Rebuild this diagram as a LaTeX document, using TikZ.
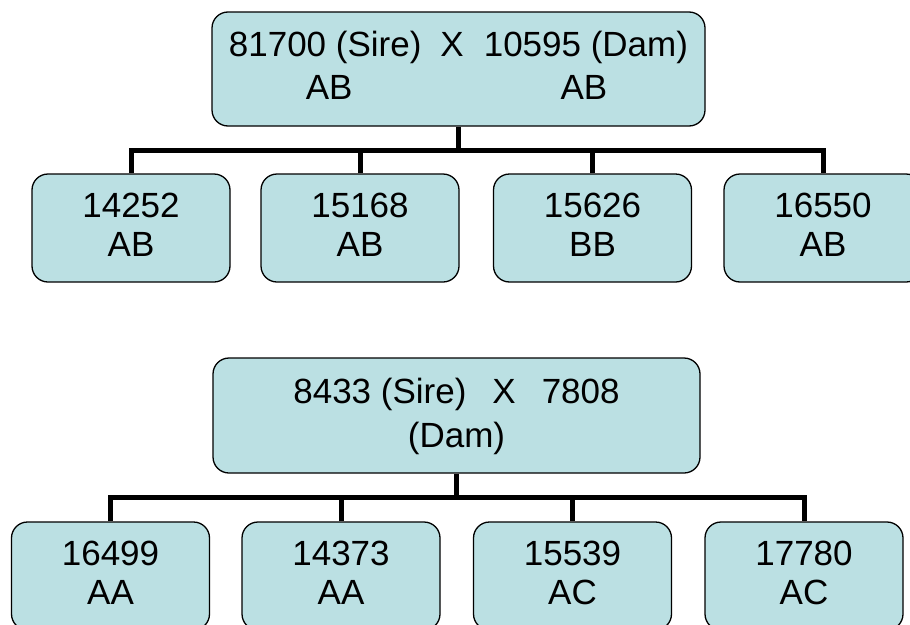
\documentclass[tikz,border=0pt]{standalone}
\usepackage{fontspec}
\setmainfont{Liberation Sans}
\definecolor{boxfill}{RGB}{187,224,227}
\begin{document}
\begin{tikzpicture}[x=1pt,y=-1pt,
  box/.style={draw=black, line width=1.3pt, fill=boxfill, rounded corners=16pt,
    inner sep=0pt, align=center, font=\fontsize{35}{39}\selectfont},
  kid/.style={box, minimum width=198pt, minimum height=108pt, text depth=6pt},
  conn/.style={draw=black, line width=5pt}]
\useasboundingbox (0,0) rectangle (910,624);
\clip (0,0) rectangle (910,624);
% first family
\node[box, minimum width=493pt, minimum height=114pt,
  font=\fontsize{35}{43}\selectfont] (p1) at (458.5,69)
  {\begin{tabular}{@{}c@{}c@{}c@{}}81700 (Sire)&\hspace*{19pt}X\hspace*{20pt}&10595 (Dam)\\ \hspace*{8pt}AB&&AB\hspace*{4pt}\end{tabular}};
\node[kid, font=\fontsize{35}{38.5}\selectfont] (c11) at (131,228) {14252\\AB};
\node[kid, font=\fontsize{35}{38.5}\selectfont] (c12) at (360,228) {15168\\AB};
\node[kid, font=\fontsize{35}{38.5}\selectfont] (c13) at (592.5,228) {15626\\BB};
\node[kid, font=\fontsize{35}{38.5}\selectfont] (c14) at (823,228) {16550\\AB};
\coordinate (j1) at (458.5,150.5);
\draw[conn] (p1.south) -- (j1);
\draw[conn] (c11.north) -- (c11.north |- j1) -- (c14.north |- j1) -- (c14.north);
\draw[conn] (c12.north) -- (c12.north |- j1);
\draw[conn] (c13.north) -- (c13.north |- j1);
% second family
\node[box, minimum width=487pt, minimum height=115pt, text depth=4.4pt,
  font=\fontsize{35}{44}\selectfont] (p2) at (456.5,415.5)
  {8433 (Sire)\hspace*{26pt}X\hspace*{26pt}7808\\(Dam)};
\node[kid, font=\fontsize{35}{39.5}\selectfont] (c21) at (110.5,576) {16499\\AA};
\node[kid, font=\fontsize{35}{39.5}\selectfont] (c22) at (341,576) {14373\\AA};
\node[kid, font=\fontsize{35}{39.5}\selectfont] (c23) at (572.5,576) {15539\\AC};
\node[kid, font=\fontsize{35}{39.5}\selectfont] (c24) at (804,576) {17780\\AC};
\coordinate (j2) at (456.5,497);
\draw[conn] (p2.south) -- (j2);
\draw[conn] (c21.north) -- (c21.north |- j2) -- (c24.north |- j2) -- (c24.north);
\draw[conn] (c22.north) -- (c22.north |- j2);
\draw[conn] (c23.north) -- (c23.north |- j2);
\end{tikzpicture}
\end{document}
